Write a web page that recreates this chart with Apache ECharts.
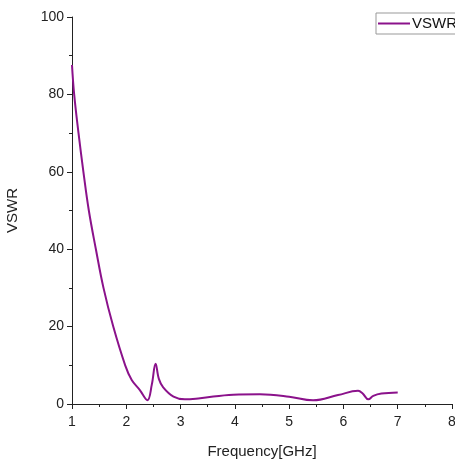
<!DOCTYPE html>
<html>
<head>
<meta charset="utf-8">
<script src="https://cdn.jsdelivr.net/npm/echarts@6/dist/echarts.min.js"></script>
<style>
html, body { margin: 0; padding: 0; background: #fff; }
#chart { width: 455px; height: 461px; }
</style>
</head>
<body>
<div id="chart"></div>
<script>
// values
var freq = [1.0, 1.04, 1.12, 1.21, 1.31, 1.44, 1.58, 1.76, 1.98, 2.10, 2.25, 2.39, 2.47, 2.54, 2.60, 2.68, 2.87, 3.08, 3.36, 3.97, 4.46, 5.0, 5.44, 5.9, 6.27, 6.35, 6.46, 6.55, 6.70, 7.0];
var vswr = [87.6, 80, 70, 60, 50, 40, 30, 20, 10, 6.2, 3.6, 1.0, 5.0, 10.4, 6.5, 4.3, 1.9, 1.2, 1.5, 2.4, 2.5, 1.9, 0.95, 2.3, 3.4, 2.8, 1.2, 2.1, 2.7, 3.0];
var xTicks = [1, 8, 1];   // min, max, step
var yTicks = [0, 100, 20];

var chart = echarts.init(document.getElementById('chart'));
var font = 'Liberation Sans, Arial, sans-serif';
chart.setOption({
  animation: false,
  grid: { left: 72, right: 3, top: 17, bottom: 57, containLabel: false, outerBoundsMode: 'none' },
  legend: {
    data: ['VSWR'],
    left: 376, top: 13,
    orient: 'vertical',
    itemWidth: 32, itemHeight: 2,
    padding: [3, 6, 3, 2],
    borderColor: '#999', borderWidth: 1,
    textStyle: { fontFamily: font, fontSize: 15, color: '#111', padding: [0, 0, 0, -3] },
    icon: 'rect'
  },
  xAxis: {
    type: 'value',
    min: xTicks[0], max: xTicks[1], interval: xTicks[2],
    name: 'Frequency[GHz]',
    nameLocation: 'middle', nameGap: 40,
    nameTextStyle: { fontFamily: font, fontSize: 15, color: '#222' },
    axisLine: { lineStyle: { color: '#222', width: 1 } },
    axisTick: { inside: false, length: 5, lineStyle: { color: '#222' } },
    minorTick: { show: true, splitNumber: 2, length: 3, lineStyle: { color: '#222' } },
    axisLabel: { fontFamily: font, fontSize: 14, color: '#222', margin: 11 },
    splitLine: { show: false }
  },
  yAxis: {
    type: 'value',
    min: yTicks[0], max: yTicks[1], interval: yTicks[2],
    name: 'VSWR',
    nameLocation: 'middle', nameGap: 52,
    nameTextStyle: { fontFamily: font, fontSize: 15, color: '#222' },
    axisLine: { show: true, lineStyle: { color: '#222', width: 1 } },
    axisTick: { show: true, inside: false, length: 5, lineStyle: { color: '#222' } },
    minorTick: { show: true, splitNumber: 2, length: 3, lineStyle: { color: '#222' } },
    axisLabel: { fontFamily: font, fontSize: 14, color: '#222', margin: 8 },
    splitLine: { show: false }
  },
  series: [{
    name: 'VSWR',
    type: 'line',
    data: freq.map(function (f, i) { return [f, vswr[i]]; }),
    smooth: 0.4,
    showSymbol: false,
    lineStyle: { color: '#8b128b', width: 2 },
    itemStyle: { color: '#8b128b' }
  }]
});
</script>
</body>
</html>
